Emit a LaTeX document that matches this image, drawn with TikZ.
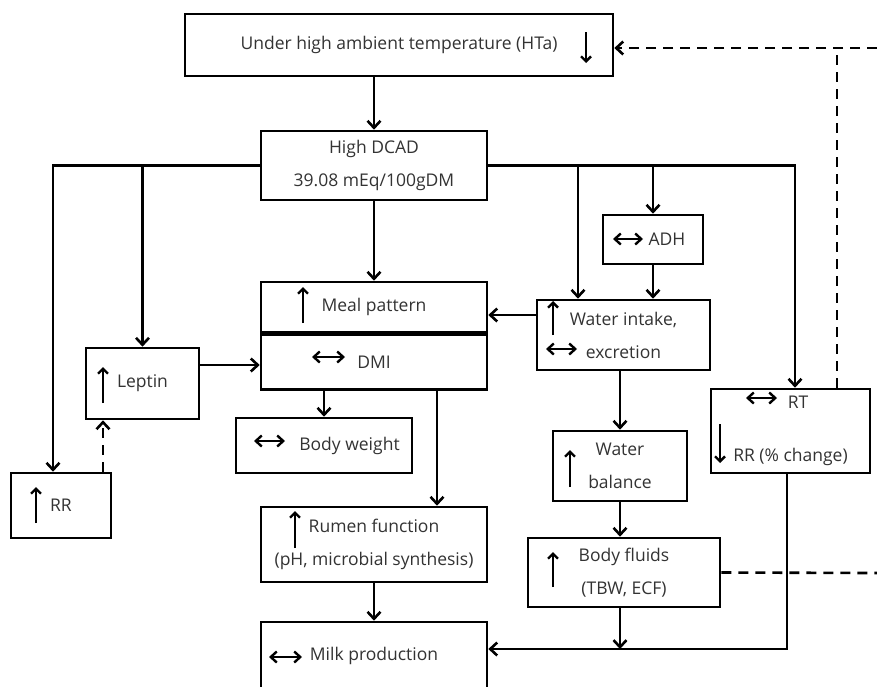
\documentclass[tikz,border=0pt]{standalone}
\usepackage{fontspec}
\setmainfont{Open Sans}
\usetikzlibrary{positioning,calc,arrows.meta}
\tikzset{
  >={Straight Barb[length=7pt,width=13pt]},
  rectnode/.style args={#1,#2}{
  draw=black,
  line width=2.6pt,
  minimum width=#1pt,
  minimum height=#2pt,
  inner sep=2pt,
  align=center,
  text=black!80,
  font=\fontsize{17.5}{33}\selectfont
  },
  conn/.style={line width=2.6pt,->},
  dashline/.style={line width=2.6pt,dash pattern=on 10pt off 7pt},
  upar/.style={line width=2.4pt,-{Straight Barb[length=5pt,width=10pt]}},
  lrar/.style={line width=2.4pt,{Straight Barb[length=6pt,width=11pt]}-{Straight Barb[length=6pt,width=11pt]}}
}
\begin{document}
\begin{tikzpicture}[x=1pt,y=-1pt]
  \useasboundingbox (0,0) rectangle (877,686);
  \fill[white] (0,0) rectangle (877,686);

  % boxes
  \node[rectnode={428,62}] (hta) at (399,45) {Under high ambient temperature (HTa)};
  \node[rectnode={226,69}] (dcad) at (374,165.5) {High DCAD\\39.08 mEq/100gDM};
  \node[rectnode={226,50}] (meal) at (374,307) {Meal pattern};
  \node[rectnode={226,55},below=0pt of meal] (dmi) {DMI};
  \node[rectnode={100,49}] (adh) at (653,239.5) {\hspace*{28pt}ADH};
  \node[rectnode={173,70}] (wat) at (623.5,335) {Water intake,\\excretion};
  \node[rectnode={113,71}] (lep) at (142.5,383.5) {Leptin};
  \node[rectnode={176,55}] (bw) at (324,445.5) {\hspace*{51pt}Body weight};
  \node[rectnode={100,65}] (rr) at (61,505.5) {RR};
  \node[rectnode={226,75}] (rum) at (374,544.5) {Rumen function\\(pH, microbial synthesis)};
  \node[rectnode={226,68}] (milk) at (374,656) {Milk production};
  \node[rectnode={134,70}] (wb) at (620,466) {Water\\balance};
  \node[rectnode={192,69}] (bf) at (624,572.5) {Body fluids\\(TBW, ECF)};
  \node[rectnode={159,84}] (rt) at (790.5,431) {\hspace*{15pt}RT\\[20pt]RR (\% change)};

  \coordinate (eR1) at (877,48);
  \coordinate (eR2) at (877,573);
  \coordinate (mj) at ([yshift=7pt]milk.east);

  % signs inside the boxes
  \draw[upar] (586,32) -- (586,63);
  \draw[upar] (303,323) -- (303,287);
  \draw[lrar] (312,357) -- (345,357);
  \draw[upar] (553,335) -- (553,301);
  \draw[lrar] (546,349) -- (577,349);
  \draw[lrar] (613,239) -- (643,239);
  \draw[upar] (103,403) -- (103,367);
  \draw[lrar] (254,441) -- (285,441);
  \draw[upar] (36,523) -- (36,487);
  \draw[upar] (295,548) -- (295,511);
  \draw[lrar] (269,657) -- (302,657);
  \draw[upar] (570,487) -- (570,450);
  \draw[upar] (553,587) -- (553,552);
  \draw[lrar] (746,398) -- (777,398);
  \draw[upar] (720,424) -- (720,463);

  % connectors
  \draw[conn] (dcad.north |- hta.south) -- (dcad.north);
  \draw[conn] (dcad) -- (meal);
  \draw[conn] (dcad.west) -| ([xshift=-8pt]rr.north);
  \draw[conn] (dcad.west -| lep.north) -- (lep.north);
  \draw[conn] (dcad.east) -| ([xshift=4.5pt]rt.north);
  \draw[conn] (dcad.east -| adh.north) -- (adh.north);
  \draw[conn] ([xshift=-45.5pt]wat.north |- dcad.east) -- ([xshift=-45.5pt]wat.north);
  \draw[conn] (adh) -- (adh |- wat.north);
  \draw[conn] ([yshift=20pt]wat.west) -- ([yshift=20pt]wat.west -| meal.east);
  \draw[conn] ([yshift=18.5pt]lep.east) -- ([yshift=18.5pt]lep.east -| dmi.west);
  \draw[conn,dashline] ([xshift=42pt]rr.north) -- ([xshift=42pt]rr.north |- lep.south);
  \draw[conn] (bw.north |- dmi.south) -- (bw.north);
  \draw[conn] ([xshift=63pt]dmi.south) -- ([xshift=63pt]dmi.south |- rum.north);
  \draw[conn] (rum) -- (milk);
  \draw[conn] (wb.north |- wat.south) -- (wb.north);
  \draw[conn] (wb) -- (wb |- bf.north);
  \draw[conn] ([xshift=-3.5pt]rt.south) |- (mj);
  \draw[conn] (wb |- bf.south) -- (wb |- mj);
  \draw[dashline] (bf.east) -- (eR2);
  \draw[dashline] ([xshift=46.5pt]rt.north) -- ([xshift=46.5pt]rt.north |- eR1);
  \draw[conn,dashline] (eR1) -- (eR1 -| hta.east);
\end{tikzpicture}
\end{document}
